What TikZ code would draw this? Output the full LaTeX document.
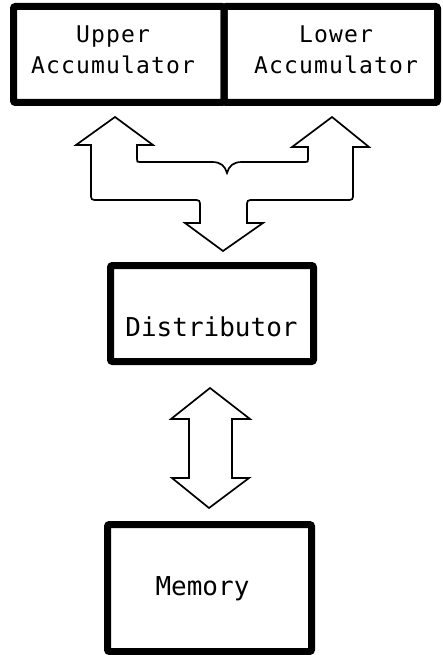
\documentclass[tikz,border=0pt]{standalone}
\usepackage{fontspec}
\newfontfamily\gothicA{DejaVu Sans Mono}[LetterSpace=5]
\newfontfamily\gothicB{DejaVu Sans Mono}
\begin{document}
\begin{tikzpicture}[x=1pt,y=-1pt]
\tikzset{
  box/.style={draw, line width=7pt, rounded corners=2pt, inner sep=0pt},
  lblA/.style={anchor=base, inner sep=0pt, font=\gothicA\fontsize{23}{27}\selectfont},
  lblB/.style={anchor=base, inner sep=0pt, font=\gothicB\fontsize{26}{30}\selectfont},
  blockarrow/.style={draw, line width=1.7pt, line join=miter}
}
\useasboundingbox (0,0) rectangle (442,655);
% boxes
\node[box, minimum width=210.5pt, minimum height=96pt] (ua) at (118.75,54.5) {};
\node[box, minimum width=213.5pt, minimum height=96pt] (la) at (330.75,54.5) {};
\node[box, minimum width=203pt, minimum height=96pt] (dist) at (212,313.5) {};
\node[box, minimum width=204pt, minimum height=127pt] (mem) at (209.5,588) {};
% labels
\node[lblA] (t1) at (113,43) {Upper};
\node[lblA] (t2) at (113,73.5) {Accumulator};
\node[lblA] (t3) at (336,43) {Lower};
\node[lblA] (t4) at (336,73.5) {Accumulator};
\node[lblB] (t5) at (211.5,336) {Distributor};
\node[lblB] (t6) at (202.5,595) {Memory};
% forked block arrow
\draw[blockarrow] (115,117) -- (153,145) -- (137,145) -- (137,159)
  .. controls (137,162) .. (140,162) -- (212,162)
  .. controls (221,162) and (225,166) .. (227,173)
  .. controls (229,166) and (233,162) .. (242,162) -- (305,162)
  .. controls (308,162) .. (308,159) -- (308,147) -- (292,147) -- (332,117)
  -- (369,147) -- (353,147) -- (353,193)
  .. controls (353,200) .. (346,200) -- (254,200)
  .. controls (247,200) .. (247,207) -- (247,223) -- (263,223) -- (223,251)
  -- (185,223) -- (200,223) -- (200,207)
  .. controls (200,200) .. (193,200) -- (98,200)
  .. controls (91,200) .. (91,193) -- (91,145) -- (76,145) -- cycle;
% double block arrow
\draw[blockarrow] (210,388) -- (250,419) -- (232,419) -- (232,478) -- (249,478)
  -- (209,508) -- (172,478) -- (189,478) -- (189,419) -- (171,419) -- cycle;
\end{tikzpicture}
\end{document}
